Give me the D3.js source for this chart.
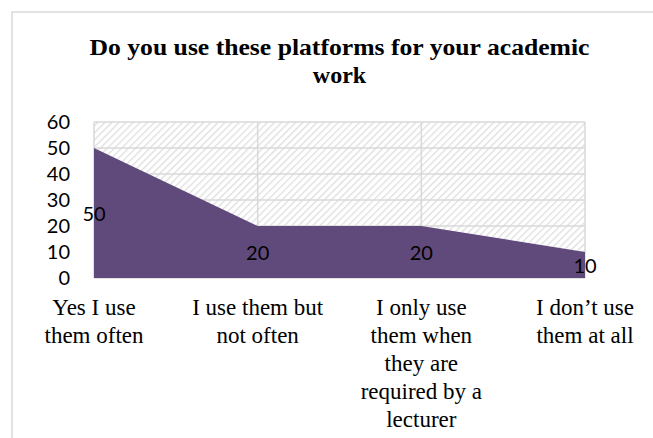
<!DOCTYPE html>
<html>
<head>
<meta charset="utf-8">
<script src="https://cdn.jsdelivr.net/npm/d3@7"></script>
<style>
  body { margin: 0; background: #fff; }
  svg { display: block; }
</style>
</head>
<body>
<div id="chart"></div>
<script>
// Chart data
const title = ["Do you use these platforms for your academic", "work"];
const categories = ["Yes I use them often", "I use them but not often",
  "I only use them when they are required by a lecturer", "I don\u2019t use them at all"];
// Wrapped category labels, one entry per line
const categoryLines = [
  ["Yes I use", "them often"],
  ["I use them but", "not often"],
  ["I only use", "them when", "they are", "required by a", "lecturer"],
  ["I don\u2019t use", "them at all"]
];
const values = [50, 20, 20, 10];
const yTicks = [0, 10, 20, 30, 40, 50, 60];

const width = 653, height = 438;
const margin = { top: 122, right: 68, bottom: 160, left: 94 };

const svg = d3.select("#chart").append("svg")
  .attr("width", width)
  .attr("height", height);

// Hatch pattern for the plot background
const defs = svg.append("defs");
const pattern = defs.append("pattern")
  .attr("id", "hatch")
  .attr("patternUnits", "userSpaceOnUse")
  .attr("width", 5)
  .attr("height", 5)
  .attr("patternTransform", "rotate(-45)");
pattern.append("rect").attr("width", 5).attr("height", 5).attr("fill", "#fff");
pattern.append("line")
  .attr("x1", 0).attr("y1", 0).attr("x2", 5).attr("y2", 0)
  .attr("stroke", "#dedede")
  .attr("stroke-width", 2.6);

// Outer chart border
svg.append("rect")
  .attr("x", 12).attr("y", 12)
  .attr("width", width + 20).attr("height", height + 20)
  .attr("fill", "none")
  .attr("stroke", "#d9d9d9")
  .attr("stroke-width", 1.5);

const x = d3.scalePoint()
  .domain(categories)
  .range([margin.left, width - margin.right]);

const y = d3.scaleLinear()
  .domain([0, 60])
  .range([height - margin.bottom, margin.top]);

// Plot area background
svg.append("rect")
  .attr("x", x.range()[0])
  .attr("y", y(60))
  .attr("width", x.range()[1] - x.range()[0])
  .attr("height", y(0) - y(60))
  .attr("fill", "url(#hatch)");

// Gridlines
svg.append("g")
  .selectAll("line.h")
  .data(yTicks)
  .join("line")
  .attr("x1", x.range()[0]).attr("x2", x.range()[1])
  .attr("y1", d => y(d)).attr("y2", d => y(d))
  .attr("stroke", "#d9d9d9")
  .attr("stroke-width", 1.5);

svg.append("g")
  .selectAll("line.v")
  .data(categories)
  .join("line")
  .attr("x1", d => x(d)).attr("x2", d => x(d))
  .attr("y1", y(0)).attr("y2", y(60))
  .attr("stroke", "#d9d9d9")
  .attr("stroke-width", 1.5);

// Area
const area = d3.area()
  .x((d, i) => x(categories[i]))
  .y0(y(0))
  .y1(d => y(d));

svg.append("path")
  .datum(values)
  .attr("d", area)
  .attr("fill", "#604a7b");

// Y axis labels
svg.append("g")
  .selectAll("text")
  .data(yTicks)
  .join("text")
  .attr("x", 70)
  .attr("y", d => y(d))
  .attr("dy", "0.35em")
  .attr("text-anchor", "end")
  .attr("font-family", "Lato, 'Open Sans', sans-serif")
  .attr("font-size", 20)
  .attr("fill", "#000")
  .text(d => d);

// Data labels (placed at the middle of the area height)
svg.append("g")
  .selectAll("text")
  .data(values)
  .join("text")
  .attr("x", (d, i) => x(categories[i]))
  .attr("y", d => y(d / 2))
  .attr("dy", "0.4em")
  .attr("text-anchor", "middle")
  .attr("font-family", "Lato, 'Open Sans', sans-serif")
  .attr("font-size", 20)
  .attr("fill", "#000")
  .text(d => d);

// Category labels
const catLabels = svg.append("g")
  .selectAll("text")
  .data(categoryLines)
  .join("text")
  .attr("text-anchor", "middle")
  .attr("font-family", "'Liberation Serif', 'Times New Roman', serif")
  .attr("font-size", 23)
  .attr("fill", "#000");

catLabels.selectAll("tspan")
  .data((lines, i) => lines.map(l => ({ line: l, cat: categories[i] })))
  .join("tspan")
  .attr("x", d => x(d.cat))
  .attr("y", (d, j) => 315 + j * 28)
  .text(d => d.line);

// Title (first line stretched to match the wider original face)
const centerX = (x.range()[0] + x.range()[1]) / 2;
svg.append("g")
  .selectAll("text")
  .data(title)
  .join("text")
  .attr("x", centerX)
  .attr("y", (d, i) => 55 + i * 28)
  .attr("text-anchor", "middle")
  .attr("font-family", "'Liberation Serif', 'DejaVu Serif', serif")
  .attr("font-weight", "bold")
  .attr("font-size", 24)
  .attr("fill", "#000")
  .attr("textLength", (d, i) => i === 0 ? 500 : null)
  .attr("lengthAdjust", "spacingAndGlyphs")
  .text(d => d);
</script>
</body>
</html>
